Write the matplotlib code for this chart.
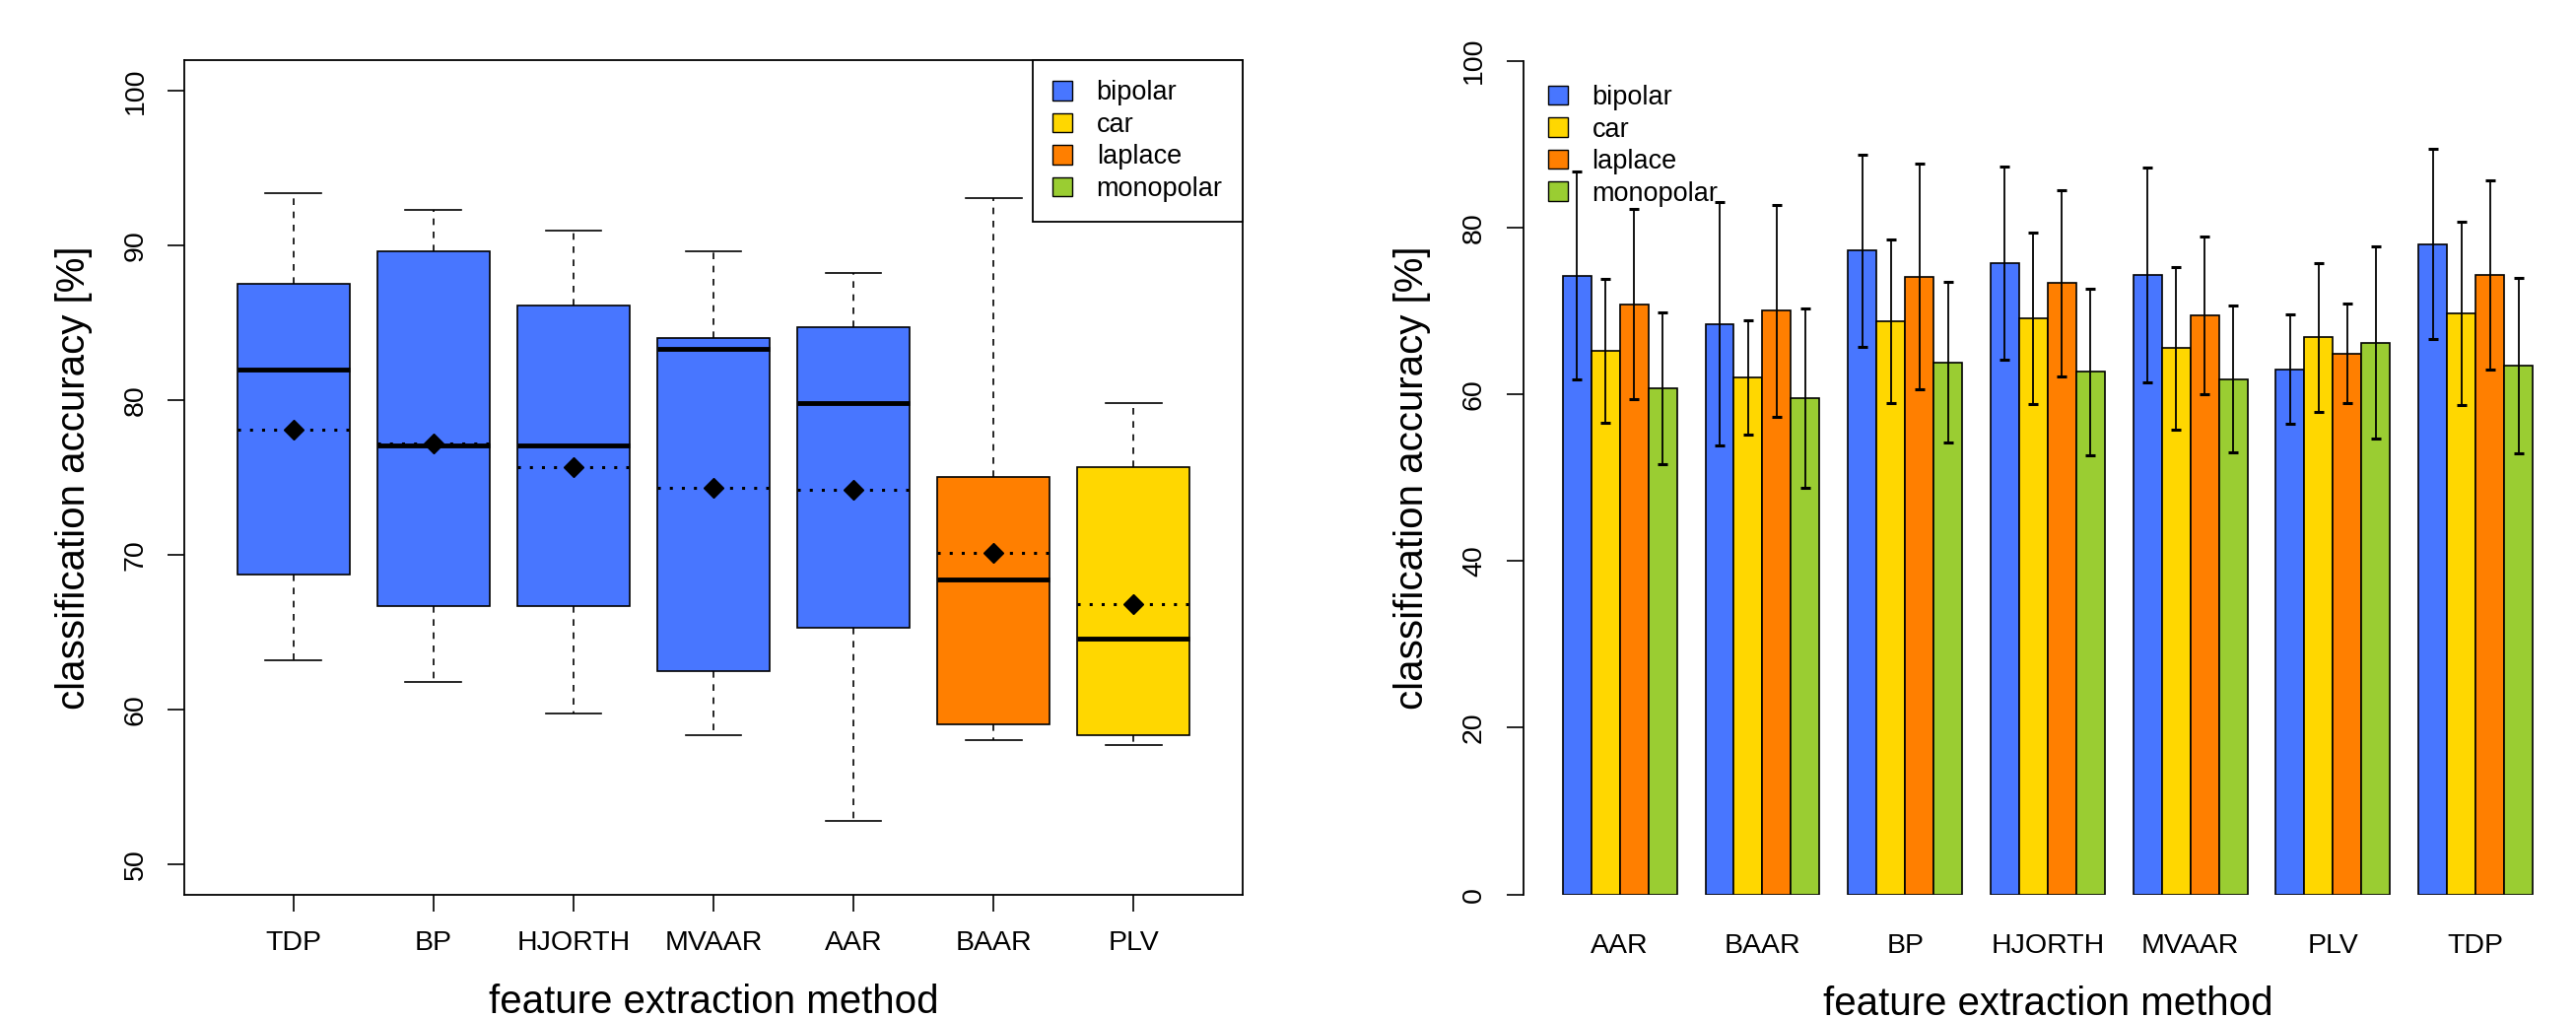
import numpy as np
import matplotlib
matplotlib.use("Agg")
import matplotlib.pyplot as plt
from matplotlib.patches import Patch

plt.rcParams['font.family'] = ['Liberation Sans', 'DejaVu Sans']

# ── Daten: Boxplot (links) ─────────────────────────────────────────
box_methods = ['TDP', 'BP', 'HJORTH', 'MVAAR', 'AAR', 'BAAR', 'PLV']
box_ref     = ['bipolar', 'bipolar', 'bipolar', 'bipolar', 'bipolar', 'laplace', 'car']
whis_lo = [63.2, 61.8, 59.7, 58.3, 52.8, 58.0, 57.7]
q1      = [68.7, 66.7, 66.7, 62.5, 65.3, 59.0, 58.3]
median  = [82.0, 77.1, 77.1, 83.3, 79.8, 68.4, 64.6]
q3      = [87.5, 89.6, 86.1, 84.0, 84.7, 75.0, 75.7]
whis_hi = [93.4, 92.3, 91.0, 89.6, 88.2, 93.1, 79.8]
means   = [78.1, 77.2, 75.7, 74.3, 74.2, 70.1, 66.8]

# ── Daten: Balken (rechts) ─────────────────────────────────────────
bar_methods = ['AAR', 'BAAR', 'BP', 'HJORTH', 'MVAAR', 'PLV', 'TDP']
refs = ['bipolar', 'car', 'laplace', 'monopolar']
acc_bipolar   = [74.2, 68.4, 77.2, 75.7, 74.3, 63.0, 78.0]
acc_car       = [65.2, 62.0, 68.7, 69.1, 65.5, 66.8, 69.7]
acc_laplace   = [70.8, 70.0, 74.1, 73.3, 69.5, 64.9, 74.3]
acc_monopolar = [60.7, 59.5, 63.8, 62.7, 61.8, 66.2, 63.4]
sd_bipolar    = [12.45, 14.6, 11.5, 11.6, 12.9, 6.55, 11.4]
sd_car        = [8.65, 6.85, 9.8, 10.3, 9.7, 8.9, 11.0]
sd_laplace    = [11.45, 12.7, 13.5, 11.2, 9.45, 5.95, 11.35]
sd_monopolar  = [9.1, 10.75, 9.65, 10.0, 8.8, 11.5, 10.5]

COLORS = {'bipolar': '#4876FF', 'car': '#FFD700',
          'laplace': '#FF7F00', 'monopolar': '#9ACD32'}

W, H = 2614, 1034
fig = plt.figure(figsize=(W / 100, H / 100), dpi=100, facecolor='white')

TICK_FS, LAB_FS, LEG_FS = 20.5, 29, 19.5


def px_axes(x0, y0, x1, y1):
    return fig.add_axes([x0 / W, 1 - y1 / H, (x1 - x0) / W, (y1 - y0) / H])


def legend(ax, **kw):
    handles = [Patch(facecolor=COLORS[r], edgecolor='black', linewidth=1) for r in refs]
    return ax.legend(handles, refs, fontsize=LEG_FS, handlelength=0.74, handleheight=0.74,
                     handletextpad=0.9, labelspacing=0.24, borderpad=0.75,
                     borderaxespad=0, **kw)


# ── links: Boxplot ─────────────────────────────────────────────────
ax1 = px_axes(187, 61, 1261, 908)
stats = [dict(whislo=whis_lo[i], q1=q1[i], med=median[i], q3=q3[i],
              whishi=whis_hi[i], mean=means[i], fliers=[])
         for i in range(len(box_methods))]
pos = np.arange(1, len(box_methods) + 1)
bp = ax1.bxp(stats, positions=pos, widths=0.8, capwidths=0.4, patch_artist=True,
             showmeans=True, meanline=True,
             boxprops=dict(edgecolor='black', linewidth=1.2),
             medianprops=dict(color='black', linewidth=3.5),
             whiskerprops=dict(color='black', linewidth=1.2, linestyle=(0, (4, 4))),
             capprops=dict(color='black', linewidth=1.2),
             meanprops=dict(color='black', linewidth=2.2, linestyle=(0, (1, 3))))
for patch, r in zip(bp['boxes'], box_ref):
    patch.set_facecolor(COLORS[r])
ax1.plot(pos, means, linestyle='none', marker='D', ms=10, color='black', zorder=5)

ax1.set_xlim(0.22, 7.78)
ax1.set_ylim(48, 102)
ax1.set_yticks([50, 60, 70, 80, 90, 100])
ax1.set_xticks(pos)
ax1.set_xticklabels(box_methods)
for s in ax1.spines.values():
    s.set_linewidth(1.3)
ax1.tick_params(axis='both', labelsize=TICK_FS, length=12, width=1.2)
ax1.tick_params(axis='x', pad=14)
ax1.tick_params(axis='y', pad=14)
plt.setp(ax1.get_yticklabels(), rotation=90, va='center')
ax1.set_xlabel('feature extraction method', fontsize=LAB_FS, labelpad=20)
ax1.set_ylabel('classification accuracy [%]', fontsize=LAB_FS, labelpad=22)
leg1 = legend(ax1, loc='upper right', bbox_to_anchor=(1, 1), frameon=True,
              fancybox=False, framealpha=1, edgecolor='black')
leg1.get_frame().set_linewidth(1.3)

# ── rechts: Balken mit Fehlerbalken ────────────────────────────────
ax2 = px_axes(1546.4, 61.5, 2609.4, 907.7)
acc = [acc_bipolar, acc_car, acc_laplace, acc_monopolar]
sds = [sd_bipolar, sd_car, sd_laplace, sd_monopolar]
groups = np.arange(len(bar_methods))
for j, r in enumerate(refs):
    x = 1.5 + 5 * groups + j
    ax2.bar(x, acc[j], width=1.0, color=COLORS[r], edgecolor='black', linewidth=1.2,
            yerr=sds[j], capsize=3.8,
            error_kw=dict(ecolor='black', elinewidth=1.3, capthick=2.2))

ax2.set_xlim(-0.36, 36.36)
ax2.set_ylim(0, 100)
for side in ['top', 'right', 'bottom']:
    ax2.spines[side].set_visible(False)
ax2.spines['left'].set_bounds(0, 100)
ax2.spines['left'].set_linewidth(1.3)
ax2.set_yticks([0, 20, 40, 60, 80, 100])
ax2.set_xticks(3 + 5 * groups)
ax2.set_xticklabels(bar_methods)
ax2.tick_params(axis='y', labelsize=TICK_FS, length=12, width=1.2, pad=15)
ax2.tick_params(axis='x', labelsize=TICK_FS, length=0, pad=28)
plt.setp(ax2.get_yticklabels(), rotation=90, va='center')
ax2.set_xlabel('feature extraction method', fontsize=LAB_FS, labelpad=20)
ax2.set_ylabel('classification accuracy [%]', fontsize=LAB_FS, labelpad=22)
legend(ax2, loc='upper left', bbox_to_anchor=(0.004, 0.995), frameon=False)

fig.savefig('out.png', dpi=100, facecolor='white')
